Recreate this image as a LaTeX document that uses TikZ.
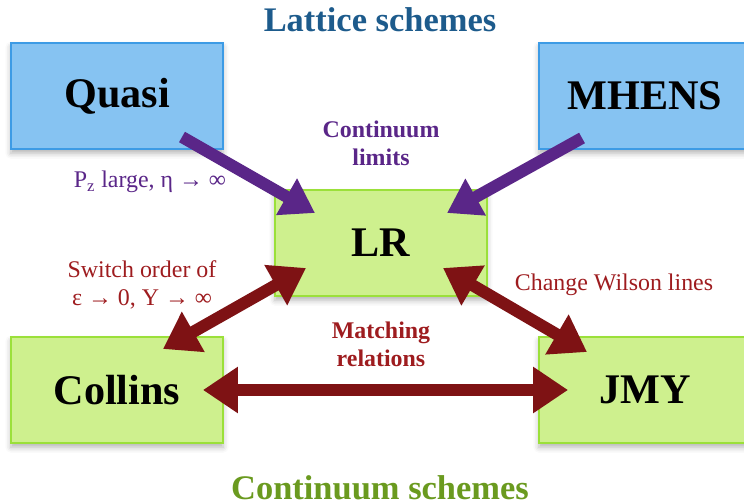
\documentclass[tikz,border=0pt]{standalone}
\usepackage{fontspec}
\setmainfont{Liberation Serif}
\usetikzlibrary{positioning,calc,arrows.meta,shadows.blur}
\definecolor{boxblue}{HTML}{86C3F2}
\definecolor{edgeblue}{HTML}{3D9BE5}
\definecolor{boxgreen}{HTML}{CEF08E}
\definecolor{edgegreen}{HTML}{9BE03A}
\definecolor{limitpurple}{HTML}{5A2688}
\definecolor{matchred}{HTML}{7E1214}
\definecolor{labelred}{HTML}{9E1C1F}
\definecolor{titleblue}{HTML}{1D5B8C}
\definecolor{titlegreen}{HTML}{6A9A1F}
\tikzset{lattice node/.style={rectangle,fill=boxblue,draw=edgeblue,line width=0.8pt,minimum width=5.3cm,minimum height=2.65cm,inner sep=0pt,font=\fontsize{30}{32}\selectfont\bfseries,
		blur shadow={shadow xshift=0pt,shadow yshift=-3pt,shadow blur radius=4pt,shadow opacity=30}},
	cont node/.style={lattice node,fill=boxgreen,draw=edgegreen},
	limit arrow/.style={draw=limitpurple,line width=0.3cm,-{Triangle[length=0.82cm,width=1.0cm]}},
	match arrow/.style={draw=matchred,line width=0.3cm,{Triangle[length=0.87cm,width=1.1cm]}-{Triangle[length=0.87cm,width=1.1cm]}},
	small label/.style={font=\fontsize{17}{20}\selectfont,align=center},
}

\begin{document}
\begin{tikzpicture}[x=0.025cm,y=-0.025cm]
				\useasboundingbox (0,0) rectangle (744,503);
				
				% titles
				\node[font=\fontsize{24.5}{28}\selectfont\bfseries,text=titleblue] (lattice) at (380,20) {Lattice schemes};
				\node[font=\fontsize{24.5}{28}\selectfont\bfseries,text=titlegreen] (continuum) at (380,488) {Continuum schemes};
				
				% boxes
				\node[lattice node] (Quasi) at (117,96) {Quasi};
				\node[lattice node] (MHENS) at (645,96) {MHENS};
				\node[cont node] (LR) at (381,243) {LR};
				\node[cont node] (Collins) at (117,390) {Collins};
				\node[cont node] (JMY) at (645,390) {JMY};
				
				% labels
				\node[small label,font=\fontsize{17}{20}\selectfont\bfseries,text=limitpurple] (limits) at (381,143) {Continuum\\limits};
				\node[small label,text=limitpurple] (large) at (150,182) {P\textsubscript{z} large, η → ∞};
				\node[small label,text=labelred] (switch) at (142,285) {Switch order of\\ε → 0, Y → ∞};
				\node[small label,text=labelred] (wilson) at (614,285) {Change Wilson lines};
				\node[small label,font=\fontsize{17}{20}\selectfont\bfseries,text=labelred] (matching) at (381,344) {Matching\\relations};
				
				% arrows
				\draw[limit arrow] ($(Quasi)+(65,41)$) -- ($(LR)+(-66,-30)$);
				\draw[limit arrow] ($(MHENS)+(-63,42)$) -- ($(LR)+(66,-30)$);
				\draw[match arrow] ($(Collins)+(46,-41)$) -- ($(LR)+(-75,25)$);
				\draw[match arrow] ($(LR)+(62,25)$) -- ($(JMY)+(-58,-38)$);
				\draw[match arrow] ($(Collins)+(86,0)$) -- ($(JMY)+(-77,0)$);
				
			\end{tikzpicture}
\end{document}
